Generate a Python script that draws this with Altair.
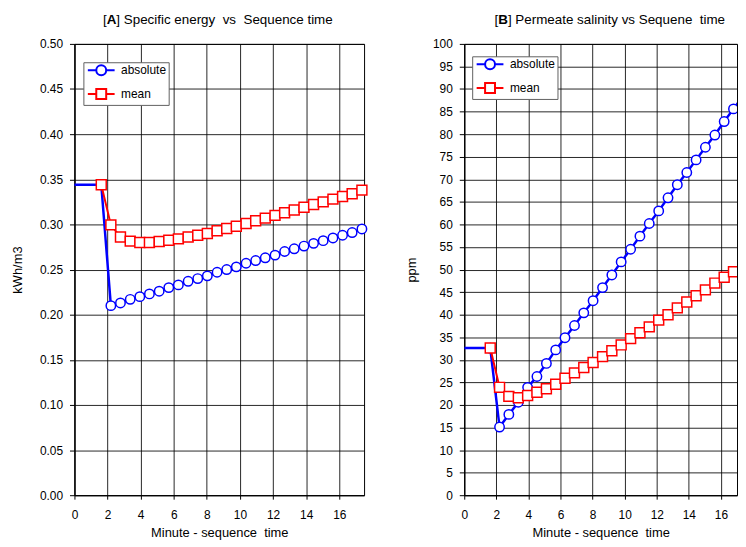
import altair as alt
import pandas as pd

# ---------------- data ----------------
time_min = [0.0, 1.62, 2.2, 2.78, 3.37, 3.95, 4.53, 5.12, 5.7, 6.28, 6.87, 7.45,
            8.03, 8.62, 9.2, 9.78, 10.37, 10.95, 11.53, 12.12, 12.7, 13.28,
            13.87, 14.45, 15.03, 15.62, 16.2, 16.78, 17.37]

energy_absolute = [0.344, 0.344, 0.210, 0.213, 0.217, 0.220, 0.223, 0.226, 0.230,
                   0.233, 0.237, 0.240, 0.243, 0.247, 0.250, 0.253, 0.257, 0.260,
                   0.263, 0.266, 0.270, 0.273, 0.276, 0.279, 0.282, 0.285, 0.288,
                   0.291, 0.295]
energy_mean = [None, 0.344, 0.2995, 0.286, 0.2815, 0.280, 0.280, 0.281, 0.2825,
               0.284, 0.286, 0.288, 0.290, 0.293, 0.2955, 0.298, 0.301, 0.304,
               0.307, 0.310, 0.313, 0.316, 0.319, 0.322, 0.325, 0.328, 0.331,
               0.334, 0.338]

salinity_absolute = [32.6, 32.6, 15.1, 17.9, 20.6, 23.9, 26.3, 29.2, 32.2, 34.9,
                     37.6, 40.4, 43.1, 46.0, 48.8, 51.7, 54.5, 57.4, 60.2, 63.0,
                     65.9, 68.8, 71.5, 74.3, 77.1, 79.8, 82.8, 85.6, 88.4]
salinity_mean = [None, 32.6, 23.9, 21.9, 21.6, 22.1, 22.8, 23.6, 24.6, 25.9, 27.1,
                 28.3, 29.4, 30.7, 32.0, 33.3, 34.7, 36.0, 37.3, 38.8, 40.0, 41.5,
                 42.8, 44.2, 45.5, 47.0, 48.3, 49.5, 50.8]

series_names = ["absolute", "mean"]
x_ticks = [0, 2, 4, 6, 8, 10, 12, 14, 16]
energy_ticks = [0.0, 0.05, 0.10, 0.15, 0.20, 0.25, 0.30, 0.35, 0.40, 0.45, 0.50]
salinity_ticks = [0, 5, 10, 15, 20, 25, 30, 35, 40, 45, 50, 55, 60, 65, 70, 75,
                  80, 85, 90, 95, 100]

# ---------------- styles ----------------
FONT = "Liberation Sans"
BLUE = "#0000ff"
RED = "#ff0000"
SERIES_COLORS = {"absolute": BLUE, "mean": RED}
# legend symbols: line segment + marker
CIRCLE_PATH = "M-2.7,0L-1,0M1,0L2.7,0M-1,0A1,1,0,1,1,1,0A1,1,0,1,1,-1,0Z"
SQUARE_PATH = "M-2.7,0L-1,0M1,0L2.7,0M-1,-1L1,-1L1,1L-1,1Z"
TITLE_BASELINE = -20.5


def make_df(absolute, mean):
    rows = []
    for t, v in zip(time_min, absolute):
        if v is not None:
            rows.append({"t": t, "v": v, "s": "absolute"})
    for t, v in zip(time_min, mean):
        if v is not None:
            rows.append({"t": t, "v": v, "s": "mean"})
    return pd.DataFrame(rows)


def panel(df, width, x_max, y_title, y_domain, y_ticks, y_format, letter, rest,
          title_x, legend_x, legend_y, y_title_pad, clip):
    legend = alt.Legend(
        title=None, orient="none", legendX=legend_x, legendY=legend_y,
        fillColor="white", strokeColor="#606060", padding=2,
        labelFont=FONT, labelFontSize=12, labelColor="black",
        symbolSize=100, symbolStrokeWidth=2, symbolOffset=10, labelOffset=14,
        symbolOpacity=1, symbolFillColor="white", rowPadding=6,
    )
    x_enc = alt.X("t:Q", scale=alt.Scale(domain=[0, x_max], nice=False, zero=False),
                  axis=alt.Axis(values=x_ticks, title="Minute - sequence\u00a0 time",
                                tickSize=4, labelPadding=11, titlePadding=6,
                                labelFlush=False, grid=True))
    y_enc = alt.Y("v:Q", scale=alt.Scale(domain=y_domain, nice=False, zero=False),
                  axis=alt.Axis(values=y_ticks, format=y_format, title=y_title,
                                tickSize=5, labelPadding=7, titlePadding=y_title_pad,
                                labelFlush=False, grid=True))

    layers = []
    for name, shape, size, lw in [("absolute", "circle", 90, 2.5),
                                  ("mean", "square", 100, 2)]:
        col = SERIES_COLORS[name]
        sub = alt.Chart(df).transform_filter(alt.datum.s == name)
        line = sub.mark_line(strokeWidth=lw, clip=clip, color=col).encode(
            x=x_enc, y=y_enc)
        pts = sub.transform_filter(alt.datum.t > 0).mark_point(
            shape=shape, size=size, filled=False, fill="white", stroke=col,
            opacity=1, strokeWidth=1.5, clip=clip).encode(x=x_enc, y=y_enc)
        layers += [line, pts]

    # invisible layer that only carries the legend (line + marker symbols)
    legend_layer = alt.Chart(df).transform_filter(alt.datum.t > 0).mark_point(
        filled=False, opacity=0, clip=True).encode(
        x=x_enc, y=y_enc,
        color=alt.Color("s:N", scale=alt.Scale(domain=series_names,
                                                range=[BLUE, RED]), legend=legend),
        shape=alt.Shape("s:N", scale=alt.Scale(domain=series_names,
                                                range=[CIRCLE_PATH, SQUARE_PATH]),
                        legend=legend),
    )
    layers.append(legend_layer)

    fs = 13.5
    bold_w = 0.722 * fs
    t1 = alt.Chart(pd.DataFrame({"txt": ["["]})).mark_text(
        align="right", baseline="alphabetic", font=FONT, fontSize=fs, color="black"
    ).encode(text="txt:N", x=alt.value(title_x), y=alt.value(TITLE_BASELINE))
    t2 = alt.Chart(pd.DataFrame({"txt": [letter]})).mark_text(
        align="left", baseline="alphabetic", font=FONT, fontSize=fs,
        fontWeight="bold", color="black"
    ).encode(text="txt:N", x=alt.value(title_x), y=alt.value(TITLE_BASELINE))
    t3 = alt.Chart(pd.DataFrame({"txt": [rest]})).mark_text(
        align="left", baseline="alphabetic", font=FONT, fontSize=fs, color="black"
    ).encode(text="txt:N", x=alt.value(title_x + bold_w), y=alt.value(TITLE_BASELINE))
    layers += [t1, t2, t3]

    return alt.layer(*layers).properties(width=width, height=455)


df_a = make_df(energy_absolute, energy_mean)
df_b = make_df(salinity_absolute, salinity_mean)

chart_a = panel(df_a, 292, 17.5, "kWh/m3", [0, 0.5], energy_ticks, ".2f", "A",
                "] Specific energy\u00a0 vs\u00a0 Sequence time", 32.5, 9, 18.5, 15,
                False)
chart_b = panel(df_b, 275, 17.0, "ppm", [0, 100], salinity_ticks, "d", "B",
                "] Permeate salinity vs Sequene\u00a0 time", 34.3, 8, 12.5, 14.5,
                True)

chart = alt.hconcat(chart_a, chart_b, spacing=33).resolve_scale(
    color="independent", shape="independent").resolve_legend(
    color="independent", shape="independent").properties(
    padding={"left": 3, "top": 2, "right": 0, "bottom": 0}
).configure_view(stroke="black", strokeWidth=1).configure_axis(
    domainColor="black", tickColor="black", gridColor="black", gridOpacity=0.85,
    labelColor="black", titleColor="black", labelFont=FONT, labelFontSize=12,
    titleFont=FONT, titleFontSize=13, titleFontWeight="normal"
)

chart.save("out.html", embed_options={"renderer": "svg", "actions": False})
